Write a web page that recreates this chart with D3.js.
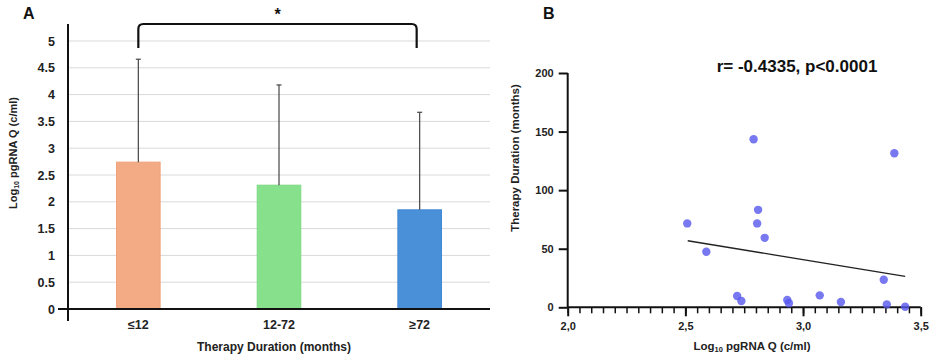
<!DOCTYPE html>
<html><head><meta charset="utf-8">
<script src="https://cdn.jsdelivr.net/npm/d3@7"></script>
<style>body{margin:0;background:#fff}svg{display:block;font-family:Arial,"Liberation Sans",sans-serif}</style>
</head><body><svg id="c" width="935" height="356"></svg>
<script>
// Panel A data
const groups = ["≤12", "12-72", "≥72"];
const means = [2.74, 2.31, 1.85];
const upperErr = [4.66, 4.18, 3.67];
const barColors = ["#f2ab85", "#86e08c", "#4a90d9"];
const barStroke = ["#f0a27a", "#7dd983", "#3f86d3"];
const yTicksA = [0, 0.5, 1, 1.5, 2, 2.5, 3, 3.5, 4, 4.5, 5];

// Panel B data
const pgRNA = [2.79, 3.388, 2.508, 2.589, 2.809, 2.805, 2.837, 2.72, 2.738, 2.933, 2.94, 3.071, 3.161, 3.343, 3.356, 3.434];
const duration = [143.5, 131.5, 71.6, 47.4, 83.2, 71.6, 59.3, 9.6, 5.4, 6.2, 3.4, 10.2, 4.5, 23.5, 2.5, 0.5];
const trendX = [2.51, 3.434];
const trendY = [56.8, 26.4];
const yTicksB = [0, 50, 100, 150, 200];
const xMajorB = [2.0, 2.5, 3.0, 3.5];

const svg = d3.select("#c");

// ---------- Panel A ----------
const xA = d3.scaleBand().domain(groups).range([68, 490]).paddingInner(0.69).paddingOuter(0.345);
const yA = d3.scaleLinear().domain([0, 5]).range([309, 41]);

const gA = svg.append("g");
gA.selectAll("line.grid").data(yTicksA.filter(d => d > 0)).join("line")
  .attr("x1", 68).attr("x2", 490).attr("y1", d => yA(d)).attr("y2", d => yA(d))
  .attr("stroke", "#d9d9d9").attr("stroke-width", 1);

gA.selectAll("rect").data(groups).join("rect")
  .attr("x", d => xA(d)).attr("width", xA.bandwidth())
  .attr("y", (d, i) => yA(means[i])).attr("height", (d, i) => yA(0) - yA(means[i]))
  .attr("fill", (d, i) => barColors[i]).attr("stroke", (d, i) => barStroke[i]).attr("stroke-width", 1);

// error bars
const cx = d => xA(d) + xA.bandwidth() / 2;
gA.selectAll("line.err").data(groups).join("line")
  .attr("x1", cx).attr("x2", cx)
  .attr("y1", (d, i) => yA(means[i])).attr("y2", (d, i) => yA(upperErr[i]))
  .attr("stroke", "#444").attr("stroke-width", 1.2);
gA.selectAll("line.cap").data(groups).join("line")
  .attr("x1", d => cx(d) - 2.5).attr("x2", d => cx(d) + 2.5)
  .attr("y1", (d, i) => yA(upperErr[i])).attr("y2", (d, i) => yA(upperErr[i]))
  .attr("stroke", "#444").attr("stroke-width", 1.2);

// axes
const axA = d3.axisLeft(yA).tickValues(yTicksA).tickSize(0).tickPadding(13).tickFormat(d3.format(""));
const gyA = gA.append("g").attr("transform", "translate(68,0)").call(axA);
gyA.select(".domain").remove();
gyA.selectAll("text").attr("font-size", 12.5).attr("font-weight", "bold").attr("fill", "#222");
gA.append("line").attr("x1", 68).attr("x2", 68).attr("y1", 24).attr("y2", 321).attr("stroke", "#111").attr("stroke-width", 2);
gA.append("line").attr("x1", 58).attr("x2", 490).attr("y1", yA(0)).attr("y2", yA(0)).attr("stroke", "#111").attr("stroke-width", 2);

const axXA = d3.axisBottom(xA).tickSize(0).tickPadding(11);
const gxA = gA.append("g").attr("transform", `translate(0,${yA(0)})`).call(axXA);
gxA.select(".domain").remove();
gxA.selectAll("text").attr("font-size", 12.5).attr("font-weight", "bold").attr("fill", "#222");

gA.append("text").attr("x", 274).attr("y", 351).attr("text-anchor", "middle")
  .attr("font-size", 12).attr("font-weight", "bold").attr("fill", "#222").text("Therapy Duration (months)");
const ylab = gA.append("text").attr("transform", "translate(17,153) rotate(-90)").attr("text-anchor", "middle")
  .attr("font-size", 11).attr("font-weight", "bold").attr("fill", "#222");
ylab.append("tspan").text("Log");
ylab.append("tspan").attr("font-size", 7).attr("dy", 2).text("10");
ylab.append("tspan").attr("dy", -2).text(" pgRNA Q (c/ml)");

// bracket
const bx1 = cx(groups[0]), bx2 = cx(groups[2]) - 3, bTop = 24, bBot = 48, r = 5;
gA.append("path")
  .attr("d", `M${bx1},${bBot} L${bx1},${bTop + r} Q${bx1},${bTop} ${bx1 + r},${bTop} L${bx2 - r},${bTop} Q${bx2},${bTop} ${bx2},${bTop + r} L${bx2},${bBot}`)
  .attr("fill", "none").attr("stroke", "#111").attr("stroke-width", 2.2);
gA.append("text").attr("x", (bx1 + bx2) / 2).attr("y", 20).attr("text-anchor", "middle")
  .attr("font-size", 16).attr("font-weight", "bold").attr("fill", "#111").text("*");
gA.append("text").attr("x", 23).attr("y", 19).attr("font-size", 16).attr("font-weight", "bold").attr("fill", "#111").text("A");

// ---------- Panel B ----------
const xB = d3.scaleLinear().domain([2.0, 3.5]).range([567.7, 920.7]);
const yB = d3.scaleLinear().domain([0, 200]).range([307.3, 73]);
const gB = svg.append("g");

const axYB = d3.axisLeft(yB).tickValues(yTicksB).tickSize(9).tickPadding(5);
const gyB = gB.append("g").attr("transform", "translate(567.7,0)").call(axYB);
gyB.select(".domain").attr("stroke", "#111").attr("stroke-width", 2).attr("d", `M0,${yB(200)}V${yB(0)}`);
gyB.selectAll(".tick line").attr("stroke", "#111").attr("stroke-width", 2);
gyB.selectAll("text").attr("font-size", 11).attr("font-weight", "bold").attr("fill", "#222");

const minorTicks = d3.range(0, 31).map(i => 2 + i * 0.05);
const axXBminor = d3.axisBottom(xB).tickValues(minorTicks).tickSize(6).tickFormat("");
const gxm = gB.append("g").attr("transform", `translate(0,${yB(0)})`).call(axXBminor);
gxm.select(".domain").attr("stroke", "#111").attr("stroke-width", 2).attr("d", `M${xB(2)},0H${xB(3.5)}`);
gxm.selectAll(".tick line").attr("stroke", "#111").attr("stroke-width", 1.5);
const axXB = d3.axisBottom(xB).tickValues(xMajorB).tickSize(9).tickPadding(6).tickFormat(d => d3.format(".1f")(d).replace(".", ","));
const gxB = gB.append("g").attr("transform", `translate(0,${yB(0)})`).call(axXB);
gxB.select(".domain").remove();
gxB.selectAll(".tick line").attr("stroke", "#111").attr("stroke-width", 2);
gxB.selectAll("text").attr("font-size", 11).attr("font-weight", "bold").attr("fill", "#222");

gB.append("line").attr("x1", xB(trendX[0])).attr("y1", yB(trendY[0])).attr("x2", xB(trendX[1])).attr("y2", yB(trendY[1]))
  .attr("stroke", "#222").attr("stroke-width", 1.3);

gB.selectAll("circle").data(pgRNA).join("circle")
  .attr("cx", d => xB(d)).attr("cy", (d, i) => yB(duration[i])).attr("r", 4.2)
  .attr("fill", "#5656ee").attr("fill-opacity", 0.8);

gB.append("text").attr("x", 797).attr("y", 72).attr("text-anchor", "middle")
  .attr("font-size", 17).attr("font-weight", "bold").attr("fill", "#111").text("r= -0.4335, p<0.0001");
gB.append("text").attr("x", 543).attr("y", 19).attr("font-size", 16).attr("font-weight", "bold").attr("fill", "#111").text("B");

const xlabB = gB.append("text").attr("x", 752).attr("y", 350).attr("text-anchor", "middle")
  .attr("font-size", 11.5).attr("font-weight", "bold").attr("fill", "#222");
xlabB.append("tspan").text("Log");
xlabB.append("tspan").attr("font-size", 7.5).attr("dy", 1.5).text("10");
xlabB.append("tspan").attr("dy", -1.5).text(" pgRNA Q (c/ml)");
gB.append("text").attr("transform", "translate(519,158) rotate(-90)").attr("text-anchor", "middle")
  .attr("font-size", 11.5).attr("font-weight", "bold").attr("fill", "#222").text("Therapy Duration (months)");
</script></body></html>
